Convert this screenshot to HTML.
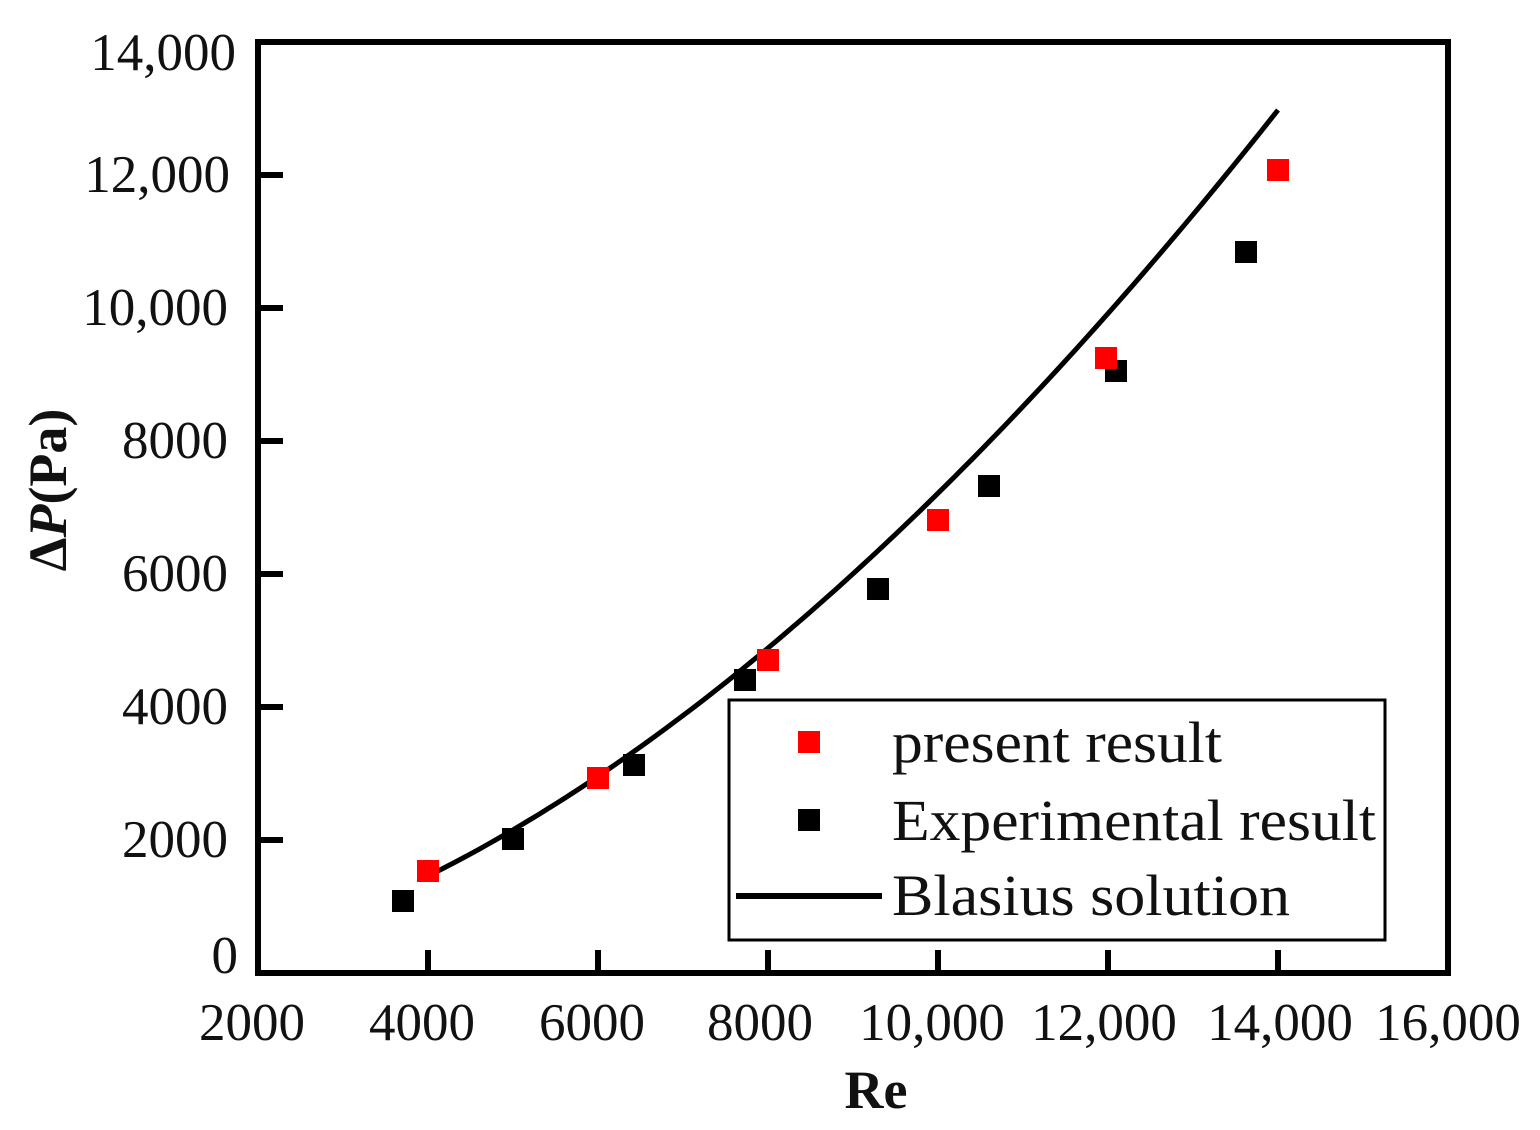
<!DOCTYPE html>
<html><head><meta charset="utf-8"><style>
html,body{margin:0;padding:0;background:#fff;}
svg{display:block;}
text{font-family:"Liberation Serif",serif;fill:#111;}
</style></head><body>
<svg width="1540" height="1130" viewBox="0 0 1540 1130" xmlns="http://www.w3.org/2000/svg">
<g stroke="#000" stroke-width="6">
<line x1="428" y1="970" x2="428" y2="950"/>
<line x1="598" y1="970" x2="598" y2="950"/>
<line x1="768" y1="970" x2="768" y2="950"/>
<line x1="938" y1="970" x2="938" y2="950"/>
<line x1="1108" y1="970" x2="1108" y2="950"/>
<line x1="1278" y1="970" x2="1278" y2="950"/>
<line x1="261" y1="840" x2="283" y2="840"/>
<line x1="261" y1="707" x2="283" y2="707"/>
<line x1="261" y1="574" x2="283" y2="574"/>
<line x1="261" y1="441" x2="283" y2="441"/>
<line x1="261" y1="308" x2="283" y2="308"/>
<line x1="261" y1="175" x2="283" y2="175"/>
</g>
<path id="curve" fill="none" stroke="#000" stroke-width="5"/>
<rect x="258" y="42" width="1190" height="931" fill="none" stroke="#000" stroke-width="6"/>
<g font-size="53" text-anchor="end">
<text x="236" y="70">14,000</text>
<text x="230" y="192">12,000</text>
<text x="228" y="325">10,000</text>
<text x="228" y="458">8000</text>
<text x="228" y="591">6000</text>
<text x="228" y="724">4000</text>
<text x="228" y="857">2000</text>
<text x="238" y="973">0</text>
</g>
<g font-size="53" text-anchor="middle">
<text x="252" y="1040">2000</text>
<text x="422" y="1040">4000</text>
<text x="592" y="1040">6000</text>
<text x="760" y="1040">8000</text>
<text x="932" y="1040">10,000</text>
<text x="1104" y="1040">12,000</text>
<text x="1280" y="1040">14,000</text>
<text x="1448" y="1040">16,000</text>
</g>
<text x="876" y="1108" font-size="54" font-weight="bold" text-anchor="middle">Re</text>
<text transform="translate(66,490) rotate(-90)" font-size="54" font-weight="bold" text-anchor="middle">Δ<tspan font-style="italic">P</tspan>(Pa)</text>
<g fill="#000">
<rect x="392" y="890" width="22" height="22"/>
<rect x="502" y="828" width="22" height="22"/>
<rect x="623" y="754" width="22" height="22"/>
<rect x="734" y="669" width="22" height="22"/>
<rect x="867" y="578" width="22" height="22"/>
<rect x="978" y="475" width="22" height="22"/>
<rect x="1105" y="360" width="22" height="22"/>
<rect x="1235" y="241" width="22" height="22"/>
</g>
<g fill="#f00">
<rect x="417" y="860" width="22" height="22"/>
<rect x="587" y="767" width="22" height="22"/>
<rect x="757" y="649" width="22" height="22"/>
<rect x="927" y="509" width="22" height="22"/>
<rect x="1095" y="347" width="22" height="22"/>
<rect x="1267" y="159" width="22" height="22"/>
</g>
<rect x="729" y="700" width="656" height="240" fill="#fff" stroke="#000" stroke-width="3"/>
<rect x="798" y="731" width="22" height="22" fill="#f00"/>
<rect x="798" y="809" width="22" height="22" fill="#000"/>
<line x1="736" y1="896" x2="882" y2="896" stroke="#000" stroke-width="6"/>
<g font-size="58">
<text x="892" y="762" textLength="330" lengthAdjust="spacingAndGlyphs">present result</text>
<text x="892" y="840" textLength="484" lengthAdjust="spacingAndGlyphs">Experimental result</text>
<text x="892" y="915" textLength="398" lengthAdjust="spacingAndGlyphs">Blasius solution</text>
</g>
<script>
var X=function(r){return 258+(r-2000)*170/2000;},Y=function(p){return 973-p*133/2000;};
var d="";for(var r=4000;r<=14000;r+=100){var p=1549*Math.pow(r/4141,1.745);d+=(d?"L":"M")+X(r).toFixed(1)+" "+Y(p).toFixed(1);}
document.getElementById("curve").setAttribute("d",d);
</script>
</svg>
</body></html>
